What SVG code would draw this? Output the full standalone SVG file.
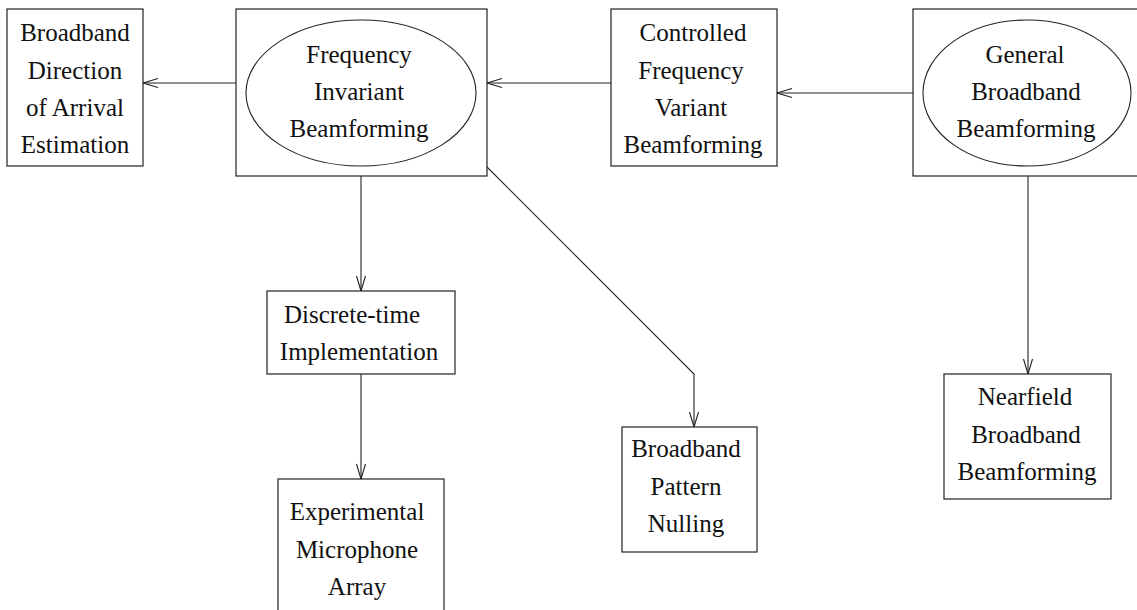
<svg xmlns="http://www.w3.org/2000/svg" width="1137" height="610" viewBox="0 0 1137 610">
<defs>
<style>
.box{fill:#fff;stroke:#222;stroke-width:1.2}
.ell{fill:none;stroke:#222;stroke-width:1.1}
.t{font-family:"Liberation Serif","Times New Roman",serif;font-size:25px;fill:#111;text-anchor:middle}
.c{fill:none;stroke:#222;stroke-width:1.1}
</style>
<marker id="ah" markerUnits="userSpaceOnUse" markerWidth="20" markerHeight="12" viewBox="-16 -6 18 12" refX="0" refY="0" orient="auto">
<path d="M-15,-4.5 L0,0 L-15,4.5" fill="none" stroke="#222" stroke-width="1.1"/>
</marker>
</defs>
<rect width="1137" height="610" fill="#fff"/>
<g id="connectors">
<path class="c" d="M236,83 L143,83" marker-end="url(#ah)"/>
<path class="c" d="M611,83 L487,83" marker-end="url(#ah)"/>
<path class="c" d="M913,93 L777,93" marker-end="url(#ah)"/>
<path class="c" d="M361,176 L361,291" marker-end="url(#ah)"/>
<path class="c" d="M361,374 L361,479" marker-end="url(#ah)"/>
<path class="c" d="M487,167 L694,374 L694,427" marker-end="url(#ah)"/>
<path class="c" d="M1028,176 L1028,374" marker-end="url(#ah)"/>
</g>
<g id="doa">
<rect class="box" x="7" y="9" width="136" height="157"/>
<text class="t" x="75" y="41">Broadband</text>
<text class="t" x="75" y="79">Direction</text>
<text class="t" x="75" y="116">of Arrival</text>
<text class="t" x="75" y="153">Estimation</text>
</g>
<g id="fib">
<rect class="box" x="236" y="9" width="251" height="167"/>
<ellipse class="ell" cx="361" cy="93" rx="115" ry="73"/>
<text class="t" x="359" y="63">Frequency</text>
<text class="t" x="359" y="100">Invariant</text>
<text class="t" x="359" y="137">Beamforming</text>
</g>
<g id="cfvb">
<rect class="box" x="611" y="9" width="166" height="157"/>
<text class="t" x="693" y="41">Controlled</text>
<text class="t" x="691" y="79">Frequency</text>
<text class="t" x="691" y="116">Variant</text>
<text class="t" x="693" y="153">Beamforming</text>
</g>
<g id="gbb">
<rect class="box" x="913" y="9" width="240" height="167"/>
<ellipse class="ell" cx="1027" cy="93" rx="104" ry="73"/>
<text class="t" x="1025" y="63">General</text>
<text class="t" x="1026" y="100">Broadband</text>
<text class="t" x="1026" y="137">Beamforming</text>
</g>
<g id="discrete">
<rect class="box" x="267" y="291" width="188" height="83"/>
<text class="t" x="352" y="323">Discrete-time</text>
<text class="t" x="359" y="360">Implementation</text>
</g>
<g id="experimental">
<rect class="box" x="278" y="479" width="166" height="145"/>
<text class="t" x="357" y="520">Experimental</text>
<text class="t" x="357" y="558">Microphone</text>
<text class="t" x="357" y="595">Array</text>
</g>
<g id="nulling">
<rect class="box" x="622" y="427" width="135" height="125"/>
<text class="t" x="686" y="457">Broadband</text>
<text class="t" x="686" y="495">Pattern</text>
<text class="t" x="686" y="532">Nulling</text>
</g>
<g id="nearfield">
<rect class="box" x="944" y="374" width="167" height="125"/>
<text class="t" x="1025" y="405">Nearfield</text>
<text class="t" x="1026" y="443">Broadband</text>
<text class="t" x="1027" y="480">Beamforming</text>
</g>
</svg>
